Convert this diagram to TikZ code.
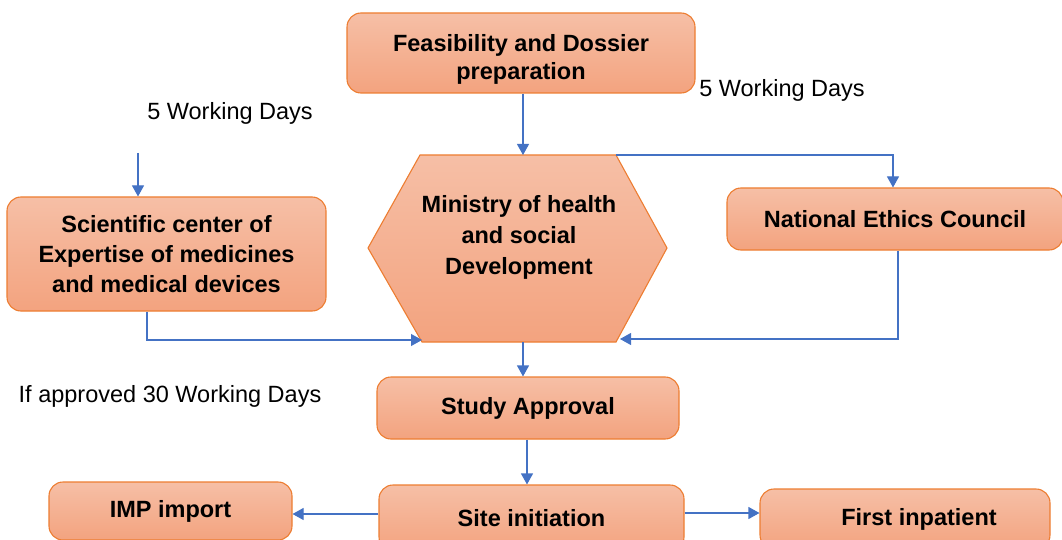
\documentclass[tikz,border=0pt]{standalone}
\usepackage{fontspec}
\setmainfont{Liberation Sans}
\usetikzlibrary{arrows.meta}
\definecolor{boxtop}{HTML}{F6BFA6}
\definecolor{boxbot}{HTML}{F3A37F}
\definecolor{boxline}{HTML}{ED7D31}
\definecolor{arrowblue}{HTML}{4472C4}
\begin{document}
\begin{tikzpicture}[x=1pt,y=-1pt,
  box/.style={draw=boxline, line width=1.1pt, rounded corners=14pt,
    top color=boxtop, bottom color=boxbot, inner sep=0pt,
    font=\bfseries\fontsize{23.5}{30}\selectfont, align=center},
  flow/.style={draw=arrowblue, line width=1.1pt, -{Triangle[length=11pt,width=12pt]}},
  lbl/.style={font=\fontsize{23.5}{28}\selectfont, inner sep=0pt}]
\useasboundingbox (0,0) rectangle (1062,540);

% process boxes
\node[box, minimum width=348pt, minimum height=80pt] (feas) at (521,53)
  {\raisebox{-7pt}[\height][\depth]{\fontsize{23.5}{28}\selectfont
   \begin{tabular}{@{}c@{}}Feasibility and Dossier\\preparation\end{tabular}}};
\node[box, minimum width=319pt, minimum height=114pt] (sci) at (166.5,254)
  {Scientific center of\\Expertise of medicines\\and medical devices};
\node[box, minimum width=336pt, minimum height=62pt] (nec) at (895,219)
  {National Ethics Council};
\node[box, minimum width=302pt, minimum height=62pt] (study) at (528,408)
  {Study Approval};
\node[box, minimum width=305pt, minimum height=66pt] (site) at (531.5,518)
  {Site initiation};
\node[box, minimum width=243pt, minimum height=58pt] (imp) at (170.5,511)
  {IMP import};
\node[box, minimum width=290pt, minimum height=60pt] (first) at (905,519)
  {\hspace*{28pt}First inpatient};

% ministry hexagon
\coordinate (hTL) at (420,155);
\coordinate (hTR) at (616,155);
\coordinate (hR)  at (667,248);
\coordinate (hBR) at (616,342);
\coordinate (hBL) at (422,342);
\coordinate (hL)  at (368,248);
\path[draw=boxline, line width=1.1pt, top color=boxtop, bottom color=boxbot]
  (hTL) -- (hTR) -- (hR) -- (hBR) -- (hBL) -- (hL) -- cycle;
\node[font=\bfseries\fontsize{23.5}{31}\selectfont, align=center] (moh) at (519,237)
  {Ministry of health\\and social\\Development};

% connector end points on the hexagon
\coordinate (hTop) at (523,155);
\coordinate (hBot) at (523,342);
\coordinate (hInL) at (422,340);
\coordinate (hInR) at (620,339);
\coordinate (sciIn) at (138,153);

% connectors
\draw[flow] (feas.south -| hTop) -- (hTop);
\draw[flow] (hTR) -| ([xshift=-2pt]nec.north);
\draw[flow] (sciIn) -- (sciIn |- sci.north);
\draw[flow] ([xshift=-19.5pt]sci.south) |- (hInL);
\draw[flow] ([xshift=3pt]nec.south) |- (hInR);
\draw[flow] (hBot) -- (hBot |- study.north);
\draw[flow] ([xshift=-1pt]study.south) -- ([xshift=-4.5pt]site.north);
\draw[flow] ([yshift=4pt]site.west) -- ([yshift=4pt]site.west -| imp.east);
\draw[flow] ([yshift=5pt]site.east) -- ([yshift=5pt]site.east -| first.west);

% timing labels
\node[lbl] (t1) at (230,113) {5 Working Days};
\node[lbl] (t2) at (782,90) {5 Working Days};
\node[lbl] (t3) at (170,396) {If approved 30 Working Days};
\end{tikzpicture}
\end{document}
